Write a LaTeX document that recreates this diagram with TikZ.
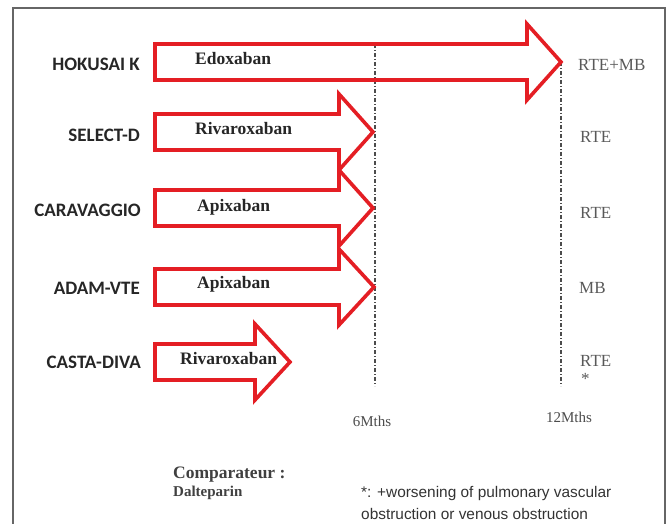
\documentclass[tikz,border=0pt]{standalone}
\usepackage{fontspec}
\setmainfont{Liberation Serif}
\newfontfamily\trialfont{Carlito}
\newfontfamily\notefont{Liberation Sans}
\usetikzlibrary{positioning}
\definecolor{arrowred}{RGB}{228,30,36}

\begin{document}
\begin{tikzpicture}[x=1pt, y=-1pt,
    trial/.style={anchor=east, inner sep=0pt, font=\trialfont\bfseries\fontsize{19}{22}\selectfont, text=black!85},
    drug/.style={anchor=west, inner sep=0pt, font=\bfseries\fontsize{17.5}{20}\selectfont, text=black!85},
    outcome/.style={anchor=west, inner sep=0pt, font=\fontsize{17}{20}\selectfont, text=black!65},
    month/.style={inner sep=0pt, font=\fontsize{15}{18}\selectfont, text=black!70},
    note/.style={anchor=west, inner sep=0pt, font=\notefont\fontsize{15.4}{18}\selectfont, text=black!80},
    blockarrow/.style={draw=arrowred, line width=3.6pt, miter limit=20},
    timeline/.style={black!70, line width=1.1pt, dash pattern=on 4pt off 2pt on 1pt off 2pt}]
    \useasboundingbox (0,0) rectangle (672,524);
    \draw[black!60, line width=1.2pt] (13,524) -- (13,8) -- (665,8) -- (665,524);

    \coordinate (top6) at (375,44);
    \coordinate (end6) at (375,386);
    \coordinate (top12) at (561,62);
    \coordinate (end12) at (561,386);
    \draw[timeline] (top6) -- (end6);
    \draw[timeline] (top12) -- (end12);

    \draw[blockarrow] (155,44) -- (527,44) -- (527,24) -- (561,62) -- (527,100) -- (527,80) -- (155,80) -- cycle;
    \draw[blockarrow] (155,114) -- (339,114) -- (339,94) -- (373,132) -- (339,170) -- (339,150) -- (155,150) -- cycle;
    \draw[blockarrow] (155,190) -- (339,190) -- (339,170) -- (373,208) -- (339,246) -- (339,226) -- (155,226) -- cycle;
    \draw[blockarrow] (155,269) -- (339,269) -- (339,249) -- (374,287) -- (339,325) -- (339,305) -- (155,305) -- cycle;
    \draw[blockarrow] (155,344) -- (255,344) -- (255,324) -- (290,362) -- (255,400) -- (255,380) -- (155,380) -- cycle;

    \node[trial] (hokusai) at (140,64) {HOKUSAI K};
    \node[trial] (select) at (140,135) {SELECT-D};
    \node[trial] (caravaggio) at (141,210) {CARAVAGGIO};
    \node[trial] (adam) at (140,288) {ADAM-VTE};
    \node[trial] (casta) at (141,362) {CASTA-DIVA};

    \node[drug] (edoxaban) at (195,59) {Edoxaban};
    \node[drug] (riva1) at (195,129) {Rivaroxaban};
    \node[drug] (apix1) at (197,207) {Apixaban};
    \node[drug] (apix2) at (197,284) {Apixaban};
    \node[drug] (riva2) at (180,359) {Rivaroxaban};

    \node[outcome] (out1) at (578,65) {RTE+MB};
    \node[outcome] (out2) at (580,137) {RTE};
    \node[outcome] (out3) at (580,213) {RTE};
    \node[outcome] (out4) at (579,288) {MB};
    \node[outcome] (out5) at (580,361) {RTE};
    \node[outcome] (star) at (581,379) {*};

    \node[month] (m6) at (372,421) {6Mths};
    \node[month] (m12) at (569,417) {12Mths};

    \node[drug, text=black!75] (comp) at (173,475) {Comparateur :};
    \node[drug, text=black!75, font=\bfseries\fontsize{15}{17}\selectfont] (dalte) at (173,493) {Dalteparin};
    \node[note] (note1) at (361,494) {*: +worsening of pulmonary vascular};
    \node[note] (note2) at (361,514) {obstruction or venous obstruction};
\end{tikzpicture}
\end{document}
